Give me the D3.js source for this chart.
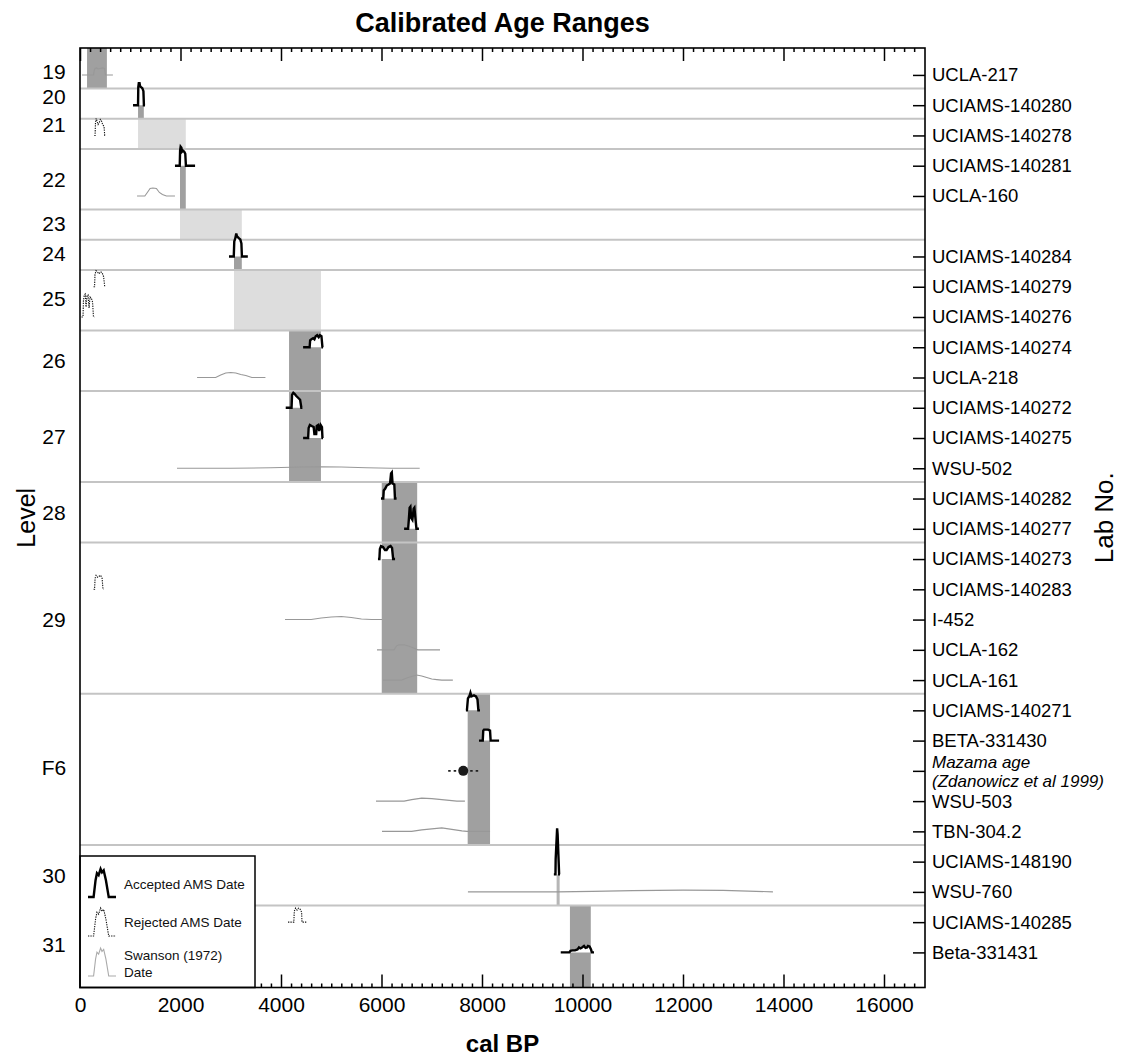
<!DOCTYPE html>
<html>
<head>
<meta charset="utf-8">
<script src="https://cdn.jsdelivr.net/npm/d3@7"></script>
<style>
  body { margin: 0; background: #fff; }
  svg { display: block; }
  text { font-family: "Liberation Sans", Arial, Helvetica, sans-serif; }
</style>
</head>
<body>
<svg id="chart" width="1128" height="1059"></svg>
<script>
// ---- Data -----------------------------------------------------------------

// Lab numbers, one per plotting row (row 5 holds no sample)
const labNos = [
  "UCLA-217", "UCIAMS-140280", "UCIAMS-140278", "UCIAMS-140281", "UCLA-160", "",
  "UCIAMS-140284", "UCIAMS-140279", "UCIAMS-140276", "UCIAMS-140274", "UCLA-218",
  "UCIAMS-140272", "UCIAMS-140275", "WSU-502", "UCIAMS-140282", "UCIAMS-140277",
  "UCIAMS-140273", "UCIAMS-140283", "I-452", "UCLA-162", "UCLA-161",
  "UCIAMS-140271", "BETA-331430", "Mazama age|(Zdanowicz et al 1999)", "WSU-503", "TBN-304.2",
  "UCIAMS-148190", "WSU-760", "UCIAMS-140285", "Beta-331431"
];

// Stratigraphic levels, the last row each one holds, and where its name sits (row units)
const levelNames    = ["19", "20", "21", "22", "23", "24", "25", "26", "27", "28", "29", "F6", "30", "31"];
const levelLastRow  = [0, 1, 2, 4, 5, 6, 8, 10, 13, 15, 20, 25, 27, 29];
const levelLabelRow = [-0.1, 0.72, 1.65, 3.45, 4.9, 5.9, 7.4, 9.42, 11.95, 14.45, 18.0, 22.9, 26.45, 28.75];

// Row extent of the chart
const rowMin = -0.89, rowMax = 30.16;

// Modelled age range of each level (cal BP) with its row extent and tone
const rangeFrom      = [140, 1155, 1155, 1990, 1990, 3065, 3065, 4160, 6005, 7715, 9485, 9750];
const rangeTo        = [535, 1270, 2105, 2105, 3220, 3220, 4795, 4795, 6710, 8160, 9545, 10165];
const rangeTopRow    = [rowMin, 0.97, 1.45, 2.95, 4.45, 5.93, 6.45, 8.45, 13.45, 20.45, 26.42, 27.45];
const rangeBottomRow = [0.45, 1.45, 2.45, 4.45, 5.45, 6.45, 8.45, 13.45, 20.45, 25.45, 27.45, rowMax];
const rangeTone      = ["dark", "dark", "light", "dark", "light", "dark", "light", "dark", "dark", "dark", "pale", "dark"];

// Calibrated probability distributions: row, kind, and [cal BP, relative probability] profile
const curveRow  = [0, 1, 2, 3, 4, 6, 7, 8, 9, 10, 11, 12, 13, 14, 15, 16, 17, 18, 19, 20, 21, 22, 24, 25, 26.42, 27, 28, 29];
const curveKind = [
  "swanson", "accepted", "rejected", "accepted", "swanson", "accepted", "rejected", "rejected",
  "accepted", "swanson", "accepted", "accepted", "swanson", "accepted", "accepted", "accepted",
  "rejected", "swanson", "swanson", "swanson", "accepted", "accepted", "swanson", "swanson",
  "accepted", "swanson", "rejected", "accepted"
];
const curveProfiles = [
  [[40,0],[270,0],[285,10],[300,13],[330,14],[360,12],[400,13],[450,14],[490,13],[505,0],[655,0]],
  [[1055,0],[1155,0],[1160,36],[1170,44],[1185,44],[1195,38],[1215,36],[1240,34],[1262,28],[1272,0],[1294,0]],
  [[285,0],[300,0],[308,26],[322,34],[340,28],[360,22],[385,26],[405,32],[425,30],[450,22],[478,18],[492,0],[505,0]],
  [[1890,0],[1985,0],[1992,30],[2003,38],[2018,36],[2030,28],[2050,30],[2075,28],[2095,24],[2108,0],[2290,0]],
  [[1135,0],[1290,0],[1340,7],[1395,15],[1450,16],[1520,15],[1580,7],[1640,3],[1720,0],[1890,0]],
  [[2965,0],[3060,0],[3070,30],[3090,36],[3110,46],[3125,40],[3145,38],[3165,36],[3190,34],[3212,26],[3222,0],[3340,0]],
  [[270,0],[290,0],[298,24],[318,32],[345,30],[375,26],[410,30],[440,28],[470,20],[492,0],[500,0]],
  [[30,0],[60,0],[68,32],[85,44],[105,46],[120,20],[140,42],[160,44],[180,18],[200,40],[225,38],[250,30],[268,0],[285,0]],
  [[4440,0],[4570,0],[4580,14],[4605,16],[4640,18],[4665,16],[4690,22],[4720,24],[4750,20],[4775,24],[4805,22],[4825,0],[4836,0]],
  [[2330,0],[2700,0],[2800,5],[2900,9],[3000,10],[3100,9],[3200,6],[3300,4],[3420,0],[3690,0]],
  [[4094,0],[4210,0],[4220,26],[4245,30],[4270,28],[4300,24],[4340,20],[4380,16],[4405,0],[4426,0]],
  [[4440,0],[4540,0],[4550,20],[4575,26],[4610,24],[4650,22],[4665,8],[4700,8],[4712,24],[4740,26],[4760,14],[4790,26],[4815,22],[4825,0],[4836,0]],
  [[1930,0],[3000,0],[3800,1],[4400,2.5],[4800,3],[5200,2.5],[5700,1],[6200,0],[6760,0]],
  [[5990,0],[6035,0],[6045,16],[6075,20],[6105,26],[6140,28],[6170,30],[6190,50],[6205,52],[6220,30],[6255,28],[6268,0],[6300,0]],
  [[6450,0],[6530,0],[6545,20],[6560,42],[6575,44],[6590,22],[6615,18],[6640,40],[6655,42],[6670,26],[6695,0],[6745,0]],
  [[5930,0],[5958,0],[5968,20],[5990,26],[6030,24],[6070,18],[6100,18],[6140,24],[6180,26],[6210,22],[6232,0],[6270,0]],
  [[270,0],[290,0],[300,22],[320,28],[350,24],[380,26],[410,28],[440,22],[458,0],[470,0]],
  [[4080,0],[4600,0],[4800,3],[5000,5],[5200,6],[5400,4],[5600,1],[5800,0],[6010,0]],
  [[5910,0],[6250,0],[6300,8],[6350,10],[6450,10],[6550,7],[6650,3],[6720,0],[7165,0]],
  [[6030,0],[6400,0],[6500,4],[6600,7],[6700,10],[6800,8],[6900,5],[7000,2],[7100,1],[7200,0],[7420,0]],
  [[7680,0],[7700,0],[7720,24],[7750,28],[7770,35],[7790,28],[7840,30],[7880,28],[7910,22],[7928,0],[7960,0]],
  [[7940,0],[8015,0],[8025,20],[8040,22],[8080,22],[8120,22],[8160,20],[8172,0],[8340,0]],
  [[5890,0],[6450,0],[6600,3],[6800,6],[7000,5],[7200,3],[7400,1],[7500,0],[7660,0]],
  [[6010,0],[6600,0],[6800,3],[7000,5],[7200,7],[7400,4],[7600,1],[7700,0],[8160,0]],
  [[9430,0],[9462,0],[9466,30],[9480,60],[9495,92],[9505,80],[9520,40],[9535,0],[9552,0]],
  [[7720,0],[9500,0],[10200,1],[11000,2.5],[12000,3.5],[12800,3],[13300,1.5],[13790,0]],
  [[4140,0],[4255,0],[4265,22],[4290,28],[4320,24],[4350,28],[4380,26],[4410,20],[4418,0],[4518,0]],
  [[9567,0],[9740,0],[9760,3],[9800,4],[9850,4],[9900,6],[9930,10],[9960,8],[9990,10],[10030,13],[10060,9],[10090,10],[10110,13],[10140,12],[10170,6],[10185,0],[10229,0]]
];

// Mazama ash age (Zdanowicz et al. 1999), 2-sigma range
const mazamaAge = 7627, mazamaErr = 300, mazamaRow = 23;

// X axis ticks (cal BP)
const majorTicks = [0, 2000, 4000, 6000, 8000, 10000, 12000, 14000, 16000];
const minorStep = 200, axisMax = 16816;

// Legend entries and the generic curve drawn beside each
const legendLabels = [["Accepted AMS Date"], ["Rejected AMS Date"], ["Swanson (1972)", "Date"]];
const legendKinds = ["accepted", "rejected", "swanson"];
const legendProfile = [[0,0],[0.2,0],[0.27,0.6],[0.32,0.85],[0.38,0.78],[0.45,1],[0.5,0.88],[0.56,0.95],[0.64,0.6],[0.74,0],[1,0]];

// ---- Drawing --------------------------------------------------------------

const svg = d3.select("#chart");
const plotL = 80, plotR = 925, plotT = 48, plotB = 987.5;

const x = d3.scaleLinear().domain([0, axisMax]).range([plotL, plotR]);
const y = d3.scaleLinear().domain([rowMin, rowMax]).range([plotT, plotB]);
const h = d3.scaleLinear().domain([0, 100]).range([0, 50]);

const toneFill = { dark: "#a0a0a0", light: "#dddddd", pale: "#b6b6b6" };
const kindStyle = {
  accepted: { stroke: "#000", width: 2.4, dash: null, fill: "#fff" },
  rejected: { stroke: "#111", width: 1.1, dash: "1.3,1.1", fill: "#fff" },
  swanson:  { stroke: "#989898", width: 1.1, dash: null, fill: "none" }
};

// Level age ranges
svg.append("g").selectAll("rect")
  .data(rangeFrom.map((f, i) => i))
  .join("rect")
  .attr("x", i => x(rangeFrom[i]))
  .attr("width", i => x(rangeTo[i]) - x(rangeFrom[i]))
  .attr("y", i => y(rangeTopRow[i]))
  .attr("height", i => y(rangeBottomRow[i]) - y(rangeTopRow[i]))
  .attr("fill", i => toneFill[rangeTone[i]]);

// Level boundaries
svg.append("g").selectAll("line")
  .data(levelLastRow.slice(0, -1))
  .join("line")
  .attr("x1", plotL).attr("x2", plotR)
  .attr("y1", r => y(r + 0.45)).attr("y2", r => y(r + 0.45))
  .attr("stroke", "#c4c4c4").attr("stroke-width", 2);

// Probability distributions
const curveG = svg.append("g");
curveProfiles.forEach((pts, i) => {
  const st = kindStyle[curveKind[i]];
  const base = y(curveRow[i]);
  const line = d3.line().x(d => x(d[0])).y(d => base - h(d[1]));
  curveG.append("path")
    .attr("d", line(pts))
    .attr("fill", st.fill)
    .attr("stroke", st.stroke)
    .attr("stroke-width", st.width)
    .attr("stroke-dasharray", st.dash)
    .attr("stroke-linejoin", "miter");
});

// Mazama tephra age with its range
curveG.append("line")
  .attr("x1", x(mazamaAge - mazamaErr)).attr("x2", x(mazamaAge + mazamaErr))
  .attr("y1", y(mazamaRow)).attr("y2", y(mazamaRow))
  .attr("stroke", "#222").attr("stroke-width", 1.6).attr("stroke-dasharray", "2.5,3");
curveG.append("circle")
  .attr("cx", x(mazamaAge)).attr("cy", y(mazamaRow)).attr("r", 5)
  .attr("fill", "#1a1a1a");

// Axis ticks: inward on top and bottom, labels below
const minorTicks = d3.range(0, axisMax - 100, minorStep).filter(v => v % 2000 !== 0);
function tickLayer(axisFn, yPos, values, size) {
  const g = svg.append("g").attr("transform", `translate(0,${yPos})`)
    .call(axisFn(x).tickValues(values).tickSize(size).tickFormat(""));
  g.select(".domain").remove();
  g.selectAll(".tick line").attr("stroke", "#000").attr("stroke-width", 1.5);
  return g;
}
tickLayer(d3.axisTop, plotT, minorTicks, -4);
tickLayer(d3.axisTop, plotT, majorTicks, -13);
tickLayer(d3.axisBottom, plotB, minorTicks, -4);
const bottomAxis = svg.append("g").attr("transform", `translate(0,${plotB})`)
  .call(d3.axisBottom(x).tickValues(majorTicks).tickSize(-13).tickPadding(10).tickFormat(d3.format("d")));
bottomAxis.select(".domain").remove();
bottomAxis.selectAll(".tick line").attr("stroke", "#000").attr("stroke-width", 1.5);
bottomAxis.selectAll(".tick text")
  .attr("font-size", 21).attr("fill", "#000")
  .attr("font-family", "'Liberation Sans', Arial, sans-serif");

// Right axis with lab numbers
const labRows = labNos.map((s, i) => i).filter(i => labNos[i] !== "");
const rightAxis = svg.append("g").attr("transform", `translate(${plotR},0)`)
  .call(d3.axisRight(y).tickValues(labRows).tickSize(-12).tickPadding(7).tickFormat(i => labNos[i]));
rightAxis.select(".domain").remove();
rightAxis.selectAll(".tick line").attr("stroke", "#000").attr("stroke-width", 1.5);
rightAxis.selectAll(".tick text")
  .attr("font-size", 18.5).attr("fill", "#000")
  .attr("font-family", "'Liberation Sans', Arial, sans-serif")
  .each(function (i) {
    const parts = labNos[i].split("|");
    if (parts.length > 1) {
      const t = d3.select(this).text("").attr("dy", null)
        .attr("font-style", "italic").attr("font-size", 17);
      parts.forEach((p, k) => t.append("tspan").attr("x", 7).attr("y", -3.5 + k * 19).text(p));
    }
  });

// Legend
const lg = svg.append("g");
const legTop = 856, legRight = 255;
lg.append("rect")
  .attr("x", plotL).attr("y", legTop)
  .attr("width", legRight - plotL).attr("height", plotB - legTop)
  .attr("fill", "#fff").attr("stroke", "#000").attr("stroke-width", 1.5);
const iconBase = [897, 936, 976];
const textBase = [[889], [927], [959.5, 977]];
const lx = d3.scaleLinear().domain([0, 1]).range([88, 116]);
const lh = d3.scaleLinear().domain([0, 1]).range([0, 28]);
legendKinds.forEach((k, i) => {
  const st = kindStyle[k];
  const line = d3.line().x(d => lx(d[0])).y(d => iconBase[i] - lh(d[1]));
  lg.append("path")
    .attr("d", line(legendProfile))
    .attr("fill", "none")
    .attr("stroke", k === "swanson" ? "#aaaaaa" : st.stroke)
    .attr("stroke-width", st.width)
    .attr("stroke-dasharray", st.dash);
  legendLabels[i].forEach((txt, j) => {
    lg.append("text")
      .attr("x", 124).attr("y", textBase[i][j])
      .attr("font-size", 13.5).attr("fill", "#111")
      .text(txt);
  });
});

// Frame
svg.append("rect")
  .attr("x", plotL).attr("y", plotT)
  .attr("width", plotR - plotL).attr("height", plotB - plotT)
  .attr("fill", "none").attr("stroke", "#000").attr("stroke-width", 1.6);

// Level names
svg.append("g").selectAll("text")
  .data(levelNames)
  .join("text")
  .attr("x", 54)
  .attr("y", (d, i) => y(levelLabelRow[i]))
  .attr("dy", "0.36em")
  .attr("text-anchor", "middle")
  .attr("font-size", 21)
  .attr("fill", "#000")
  .text(d => d);

// Titles
svg.append("text")
  .attr("x", (plotL + plotR) / 2).attr("y", 32)
  .attr("text-anchor", "middle").attr("font-size", 27).attr("font-weight", "bold")
  .text("Calibrated Age Ranges");
svg.append("text")
  .attr("x", (plotL + plotR) / 2).attr("y", 1052)
  .attr("text-anchor", "middle").attr("font-size", 24).attr("font-weight", "bold")
  .text("cal BP");
svg.append("text")
  .attr("transform", `translate(35,${(plotT + plotB) / 2}) rotate(-90)`)
  .attr("text-anchor", "middle").attr("font-size", 25)
  .text("Level");
svg.append("text")
  .attr("transform", `translate(1113,${(plotT + plotB) / 2}) rotate(-90)`)
  .attr("text-anchor", "middle").attr("font-size", 26)
  .text("Lab No.");
</script>
</body>
</html>
